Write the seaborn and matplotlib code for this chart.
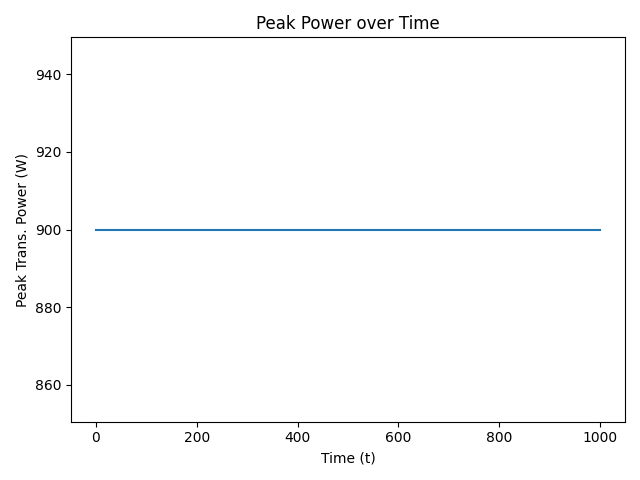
import matplotlib
matplotlib.use("Agg")
import matplotlib.pyplot as plt
import seaborn as sns
import pandas as pd

time_t = [0, 250, 500, 750, 1000]
peak_power = [900, 900, 900, 900, 900]

df = pd.DataFrame({"t": time_t, "power": peak_power})

fig, ax = plt.subplots(figsize=(6.4, 4.8), dpi=100)
sns.lineplot(data=df, x="t", y="power", ax=ax, color="#1f77b4")
ax.set_title("Peak Power over Time")
ax.set_xlabel("Time (t)")
ax.set_ylabel("Peak Trans. Power (W)")
fig.tight_layout()
fig.savefig("out.png", dpi=100)
